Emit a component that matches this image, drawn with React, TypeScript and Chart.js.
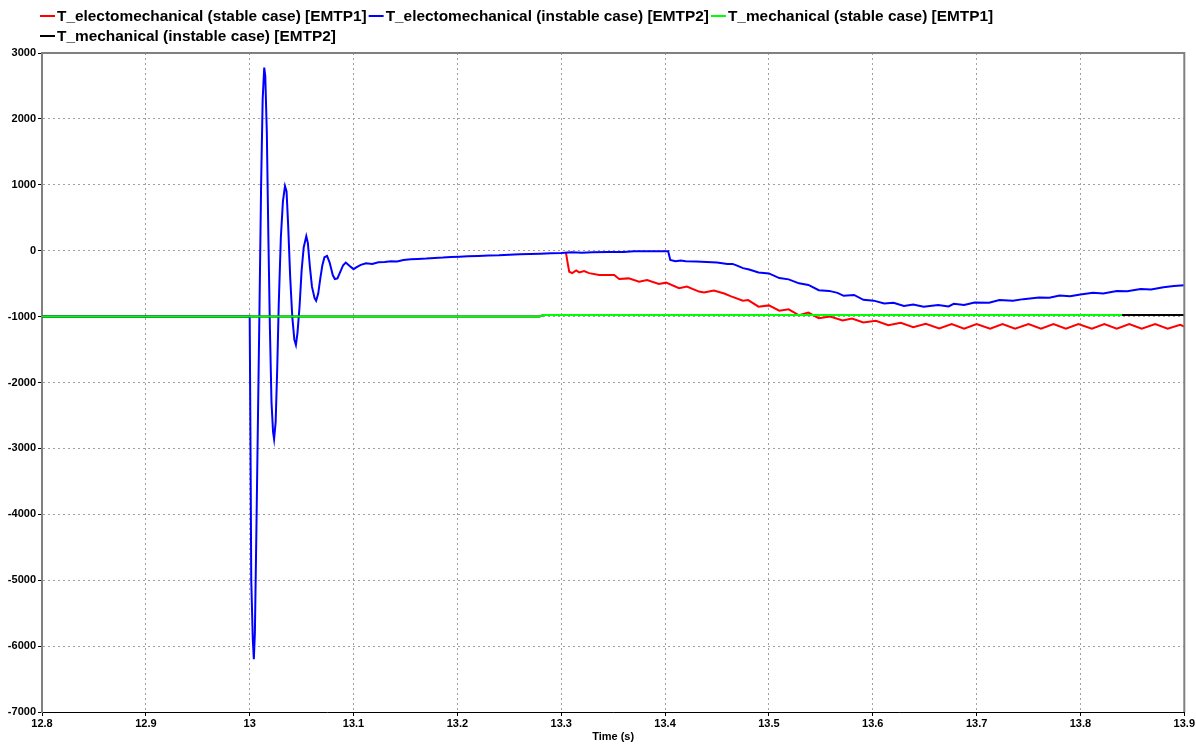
import React, { useEffect, useRef } from 'react';
import { Chart, registerables } from 'chart.js';

Chart.register(...registerables);

const seriesNames = [
  'T_electomechanical (stable case) [EMTP1]',
  'T_electomechanical (instable case) [EMTP2]',
  'T_mechanical (stable case) [EMTP1]',
  'T_mechanical (instable case) [EMTP2]',
];
const seriesColors = ['#ff0000', '#0000ff', '#00ff00', '#000000'];

const xTickValues = [12.8, 12.9, 13.0, 13.1, 13.2, 13.3, 13.4, 13.5, 13.6, 13.7, 13.8, 13.9];
const yTickValues = [-7000, -6000, -5000, -4000, -3000, -2000, -1000, 0, 1000, 2000, 3000];

// [time (s), torque]
const electroStable: [number, number][] = [
  [13.3045, -20], [13.3058, -150], [13.3077, -320], [13.3106, -340], [13.3144, -300],
  [13.3173, -330], [13.322, -310], [13.3269, -340], [13.3365, -370], [13.351, -370],
  [13.3558, -430], [13.365, -420], [13.375, -470], [13.3827, -445], [13.394, -505],
  [13.401, -485], [13.4135, -570], [13.421, -545], [13.4327, -620], [13.4375, -635],
  [13.447, -605], [13.457, -650], [13.463, -690], [13.475, -760], [13.48, -750],
  [13.49, -850], [13.5, -830], [13.51, -910], [13.519, -890], [13.529, -980],
  [13.538, -940], [13.548, -1025], [13.559, -1000], [13.571, -1060], [13.58, -1030],
  [13.591, -1090], [13.603, -1065], [13.615, -1130], [13.627, -1095], [13.639, -1160],
  [13.651, -1110], [13.664, -1180], [13.676, -1115], [13.688, -1185], [13.7, -1115],
  [13.713, -1185], [13.725, -1115], [13.737, -1185], [13.75, -1115], [13.762, -1185],
  [13.774, -1115], [13.786, -1185], [13.798, -1115], [13.811, -1185], [13.823, -1115],
  [13.835, -1185], [13.847, -1115], [13.859, -1185], [13.872, -1115], [13.884, -1185],
  [13.896, -1125], [13.9, -1150],
];

const electroInstable: [number, number][] = [
  [12.8, -1000], [13.0, -1000], [13.0008, -3000], [13.0015, -5000], [13.003, -5900],
  [13.004, -6200], [13.005, -5800], [13.0065, -4200], [13.008, -2500], [13.0095, -800],
  [13.011, 1000], [13.0125, 2300], [13.014, 2780], [13.015, 2650], [13.0165, 1800],
  [13.018, 200], [13.0195, -1200], [13.021, -2300], [13.0225, -2750], [13.0235, -2860],
  [13.025, -2600], [13.0265, -1800], [13.028, -800], [13.03, 200], [13.032, 750],
  [13.034, 980], [13.0355, 900], [13.037, 400], [13.039, -400], [13.041, -1000],
  [13.043, -1350], [13.0445, -1430], [13.046, -1250], [13.048, -850], [13.05, -300],
  [13.052, 50], [13.0545, 220], [13.056, 120], [13.058, -250], [13.06, -550],
  [13.0625, -720], [13.064, -760], [13.066, -650], [13.068, -420], [13.07, -220],
  [13.072, -100], [13.0745, -80], [13.077, -180], [13.08, -370], [13.082, -430],
  [13.0845, -420], [13.087, -330], [13.09, -220], [13.0925, -180], [13.096, -230],
  [13.1, -280], [13.103, -250], [13.107, -215], [13.112, -190], [13.118, -200],
  [13.124, -175], [13.13, -170], [13.136, -160], [13.142, -165], [13.148, -140],
  [13.155, -130], [13.162, -125], [13.17, -120], [13.178, -110], [13.186, -105],
  [13.194, -95], [13.202, -90], [13.21, -85], [13.22, -80], [13.23, -72],
  [13.24, -70], [13.25, -60], [13.26, -55], [13.27, -50], [13.28, -45],
  [13.29, -40], [13.3, -35], [13.31, -25], [13.32, -30], [13.33, -22],
  [13.345, -20], [13.36, -20], [13.37, -10], [13.403, -10], [13.405, -140],
  [13.41, -160], [13.415, -150], [13.42, -160], [13.43, -165], [13.44, -170],
  [13.45, -180], [13.46, -200], [13.465, -200], [13.47, -230], [13.475, -265],
  [13.481, -285], [13.49, -330], [13.5, -345], [13.51, -415], [13.519, -435],
  [13.529, -495], [13.538, -520], [13.548, -600], [13.558, -610], [13.566, -640],
  [13.572, -685], [13.582, -672], [13.591, -745], [13.601, -758], [13.611, -800],
  [13.62, -790], [13.63, -840], [13.639, -815], [13.649, -850], [13.663, -825],
  [13.673, -845], [13.678, -805], [13.688, -825], [13.698, -785], [13.712, -790],
  [13.722, -750], [13.735, -760], [13.745, -735], [13.76, -710], [13.77, -715],
  [13.78, -680], [13.79, -690], [13.8, -665], [13.812, -640], [13.822, -650],
  [13.835, -610], [13.845, -615], [13.858, -580], [13.868, -590], [13.88, -555],
  [13.89, -535], [13.9, -525],
];

const mechanicalStable: [number, number][] = [
  [12.8, -1000], [13.279, -1000], [13.283, -975], [13.84, -975],
];

const mechanicalInstable: [number, number][] = [
  [12.8, -1000], [13.279, -1000], [13.283, -975], [13.9, -975],
];

const allSeries = [electroStable, electroInstable, mechanicalStable, mechanicalInstable];
const drawOrder = [3, 2, 0, 1];

const FONT = '"Liberation Sans", Arial, sans-serif';

const framePlugin = {
  id: 'frame',
  afterDatasetsDraw(chart: any) {
    const { ctx, chartArea } = chart;
    ctx.save();
    ctx.strokeStyle = '#808080';
    ctx.lineWidth = 2;
    ctx.beginPath();
    ctx.moveTo(chartArea.left, chartArea.top);
    ctx.lineTo(chartArea.right, chartArea.top);
    ctx.lineTo(chartArea.right, chartArea.bottom);
    ctx.stroke();
    ctx.restore();
  },
};

const legendPlugin = {
  id: 'customLegend',
  afterDraw(chart: any) {
    const { ctx } = chart;
    ctx.save();
    ctx.font = `bold 15.4px ${FONT}`;
    ctx.textBaseline = 'middle';
    ctx.textAlign = 'left';
    const startX = 40;
    const rowH = 20;
    let x = startX;
    let y = 16;
    const lineW = 15;
    chart.data.datasets.forEach((ds: any) => {
      const w = ctx.measureText(ds.label).width;
      const itemW = lineW + 2 + w + 2;
      if (x + itemW > chart.width - 4 && x > startX) {
        x = startX;
        y += rowH;
      }
      ctx.strokeStyle = ds.borderColor;
      ctx.lineWidth = 2;
      ctx.beginPath();
      ctx.moveTo(x, y);
      ctx.lineTo(x + lineW, y);
      ctx.stroke();
      ctx.fillStyle = '#000';
      ctx.fillText(ds.label, x + lineW + 2, y + 1);
      x += itemW;
    });
    ctx.restore();
  },
};

export default function App() {
  const canvasRef = useRef<HTMLCanvasElement | null>(null);

  useEffect(() => {
    document.body.style.margin = '0';
    const canvas = canvasRef.current;
    if (!canvas) return;
    const chart = new Chart(canvas, {
      type: 'line',
      data: {
        datasets: allSeries.map((s, i) => ({
          label: seriesNames[i],
          data: s.map(([t, v]) => ({ x: t, y: v })),
          borderColor: seriesColors[i],
          backgroundColor: seriesColors[i],
          borderWidth: 2,
          pointRadius: 0,
          tension: 0,
          fill: false,
          order: drawOrder[i],
        })),
      },
      options: {
        animation: false,
        responsive: true,
        maintainAspectRatio: false,
        layout: { padding: { top: 53, right: 11, left: 0, bottom: 0 } },
        plugins: {
          legend: { display: false },
          tooltip: { enabled: false },
        },
        scales: {
          x: {
            type: 'linear',
            min: 12.8,
            max: 13.9,
            afterBuildTicks: (s: any) => {
              s.ticks = xTickValues.map((v) => ({ value: v }));
            },
            afterFit: (s: any) => {
              s.height = 32;
            },
            ticks: {
              autoSkip: false,
              maxRotation: 0,
              padding: 1,
              color: '#000',
              font: { family: FONT, size: 11, weight: 'bold' },
              callback: (v: any) => String(Math.round(Number(v) * 10) / 10),
            },
            grid: {
              color: '#a0a0a0',
              tickLength: 4,
              tickColor: '#000',
              tickBorderDash: [],
              lineWidth: 1,
            },
            border: { display: true, color: '#000', width: 1, dash: [2, 3] },
            title: {
              display: true,
              text: 'Time (s)',
              color: '#000',
              font: { family: FONT, size: 11, weight: 'bold' },
              padding: 0,
            },
          } as any,
          y: {
            type: 'linear',
            min: -7000,
            max: 3000,
            afterBuildTicks: (s: any) => {
              s.ticks = yTickValues.map((v) => ({ value: v }));
            },
            afterFit: (s: any) => {
              s.width = 42;
            },
            ticks: {
              autoSkip: false,
              padding: 2,
              color: '#000',
              font: { family: FONT, size: 11, weight: 'bold' },
              callback: (v: any) => String(Math.round(Number(v))),
            },
            grid: {
              color: '#a0a0a0',
              tickLength: 4,
              tickColor: '#000',
              tickBorderDash: [],
              lineWidth: 1,
            },
            border: { display: true, color: '#808080', width: 2, dash: [2, 3] },
          } as any,
        },
      },
      plugins: [framePlugin, legendPlugin],
    });
    return () => chart.destroy();
  }, []);

  return (
    <div style={{ position: 'absolute', left: 0, top: 0, width: 1196, height: 744, background: '#fff' }}>
      <canvas ref={canvasRef} />
    </div>
  );
}
